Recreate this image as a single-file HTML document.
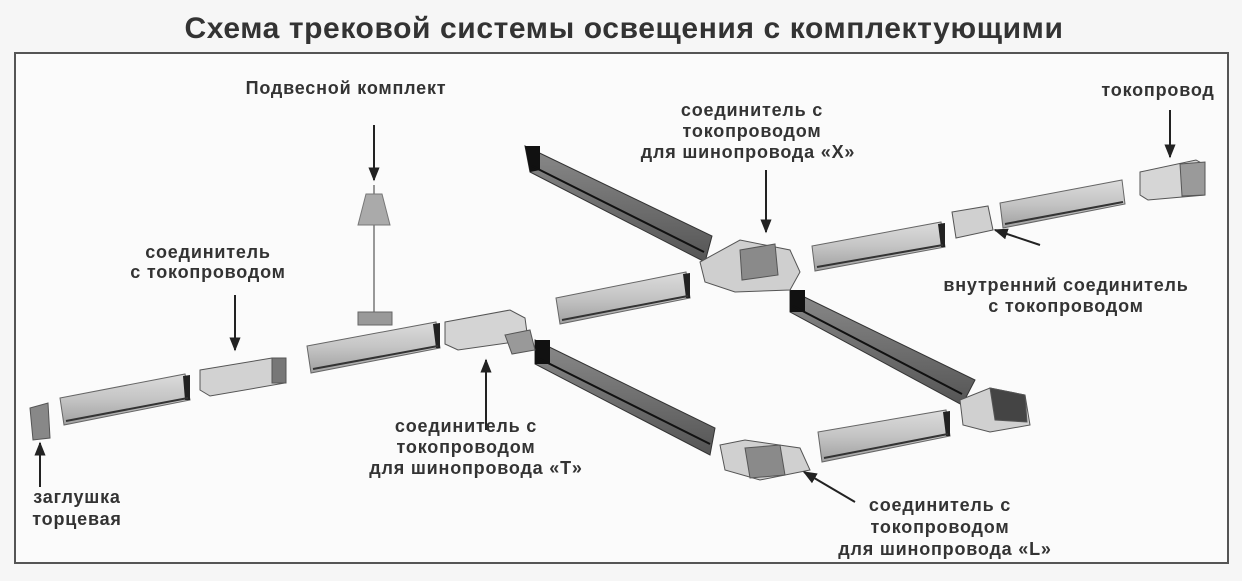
<!DOCTYPE html>
<html><head><meta charset="utf-8"><style>
html,body{margin:0;padding:0;background:#f6f6f6;}
svg{display:block}
text{font-family:"Liberation Sans","DejaVu Sans",sans-serif;font-weight:bold;fill:#333;}
</style></head><body>
<svg width="1242" height="581" viewBox="0 0 1242 581" xmlns="http://www.w3.org/2000/svg">
<defs>
<marker id="ah" viewBox="0 0 10 10" refX="9" refY="5" markerWidth="7" markerHeight="9" orient="auto-start-reverse"><path d="M0,1 L10,5 L0,9 z" fill="#222"/></marker>
<linearGradient id="lg" x1="0" y1="0" x2="0" y2="1"><stop offset="0" stop-color="#dcdcdc"/><stop offset="0.5" stop-color="#c4c4c4"/><stop offset="1" stop-color="#a0a0a0"/></linearGradient>
<linearGradient id="dg" x1="0" y1="0" x2="0" y2="1"><stop offset="0" stop-color="#8a8a8a"/><stop offset="1" stop-color="#555"/></linearGradient>
</defs>
<rect x="0" y="0" width="1242" height="581" fill="#f6f6f6"/>
<text x="624" y="38" font-size="30" letter-spacing="0.6" text-anchor="middle" fill="#2a2a2a">Схема трековой системы освещения с комплектующими</text>
<rect x="15" y="53" width="1213" height="510" fill="#fbfbfb" stroke="#555" stroke-width="2"/>

<g stroke="#666" stroke-width="1">
<polygon points="60,398 185,374 190,400 64,425" fill="url(#lg)"/>
<polygon points="307,346 436,322 440,348 311,373" fill="url(#lg)"/>
<polygon points="556,298 686,272 690,298 560,324" fill="url(#lg)"/>
<polygon points="812,246 941,222 945,247 815,271" fill="url(#lg)"/>
<polygon points="1000,203 1122,180 1125,204 1003,228" fill="url(#lg)"/>
<polygon points="818,432 946,410 950,436 822,462" fill="url(#lg)"/>
</g>
<g fill="#222">
<polygon points="183,376 190,375 190,400 185,400"/>
<polygon points="433,324 440,323 440,348 436,348"/>
<polygon points="683,274 690,273 690,298 686,298"/>
<polygon points="938,224 945,223 945,247 941,247"/>
<polygon points="943,412 950,411 950,436 946,436"/>
</g>
<g stroke="#333" stroke-width="2">
<line x1="66" y1="421" x2="188" y2="398"/>
<line x1="313" y1="369" x2="438" y2="346"/>
<line x1="562" y1="320" x2="688" y2="296"/>
<line x1="817" y1="267" x2="943" y2="245"/>
<line x1="1005" y1="224" x2="1123" y2="202"/>
<line x1="824" y1="458" x2="948" y2="434"/>
</g>

<g stroke="#333" stroke-width="1">
<polygon points="525,146 712,236 705,262 530,172" fill="url(#dg)"/>
<polygon points="790,290 975,380 962,405 790,312" fill="url(#dg)"/>
<polygon points="535,340 715,428 710,455 535,364" fill="url(#dg)"/>
</g>
<g fill="#111">
<polygon points="525,146 540,146 540,170 530,172"/>
<polygon points="790,290 805,290 805,312 790,312"/>
<polygon points="535,340 550,340 550,364 535,364"/>
</g>
<g stroke="#111" stroke-width="2">
<line x1="532" y1="166" x2="704" y2="252"/>
<line x1="793" y1="306" x2="962" y2="394"/>
<line x1="538" y1="358" x2="710" y2="444"/>
</g>

<g stroke="#555" stroke-width="1">
<polygon points="200,370 272,358 285,362 285,383 210,396 200,390" fill="#d2d2d2"/>
<rect x="272" y="358" width="14" height="25" fill="#777"/>
<polygon points="445,322 510,310 525,318 528,340 458,350 445,344" fill="#d4d4d4"/>
<polygon points="505,335 530,330 535,350 512,354" fill="#999"/>
<polygon points="700,262 740,240 790,250 800,272 790,290 735,292 705,282" fill="#cfcfcf"/>
<polygon points="740,250 775,244 778,275 742,280" fill="#8a8a8a"/>
<polygon points="952,212 988,206 993,230 956,238" fill="#d0d0d0"/>
<polygon points="1140,172 1196,160 1205,165 1205,195 1148,200 1140,195" fill="#d6d6d6"/>
<polygon points="1180,164 1205,162 1205,195 1182,196" fill="#9a9a9a"/>
<polygon points="720,445 745,440 800,448 810,470 760,480 725,470" fill="#d0d0d0"/>
<polygon points="745,448 780,445 785,475 750,478" fill="#8a8a8a"/>
<polygon points="960,400 990,388 1025,395 1030,425 990,432 963,425" fill="#d0d0d0"/>
<polygon points="990,388 1025,395 1027,422 995,420" fill="#444"/>
<polygon points="30,408 48,403 50,438 33,440" fill="#888"/>
</g>

<line x1="374" y1="185" x2="374" y2="313" stroke="#777" stroke-width="1.5"/>
<polygon points="366,194 382,194 390,225 358,225" fill="#aaa" stroke="#777"/>
<rect x="358" y="312" width="34" height="13" fill="#999" stroke="#666"/>

<g stroke="#222" stroke-width="2" fill="none" marker-end="url(#ah)">
<line x1="374" y1="125" x2="374" y2="180"/>
<line x1="235" y1="295" x2="235" y2="350"/>
<line x1="486" y1="430" x2="486" y2="360"/>
<line x1="766" y1="170" x2="766" y2="232"/>
<line x1="1170" y1="110" x2="1170" y2="157"/>
<line x1="1040" y1="245" x2="995" y2="230"/>
<line x1="855" y1="502" x2="804" y2="472"/>
<line x1="40" y1="487" x2="40" y2="443"/>
</g>

<g font-size="18" letter-spacing="0.8">
<text x="346" y="94" text-anchor="middle">Подвесной комплект</text>
<text x="208" y="258" text-anchor="middle">соединитель</text>
<text x="208" y="278" text-anchor="middle">с токопроводом</text>
<text x="752" y="116" text-anchor="middle">соединитель с</text>
<text x="752" y="137" text-anchor="middle">токопроводом</text>
<text x="748" y="158" text-anchor="middle">для шинопровода  «X»</text>
<text x="1158" y="96" text-anchor="middle">токопровод</text>
<text x="1066" y="291" text-anchor="middle">внутренний соединитель</text>
<text x="1066" y="312" text-anchor="middle">с токопроводом</text>
<text x="466" y="432" text-anchor="middle">соединитель с</text>
<text x="466" y="453" text-anchor="middle">токопроводом</text>
<text x="476" y="474" text-anchor="middle">для шинопровода  «T»</text>
<text x="77" y="503" text-anchor="middle">заглушка</text>
<text x="77" y="525" text-anchor="middle">торцевая</text>
<text x="940" y="511" text-anchor="middle">соединитель с</text>
<text x="940" y="533" text-anchor="middle">токопроводом</text>
<text x="945" y="555" text-anchor="middle">для шинопровода  «L»</text>
</g>
</svg>
</body></html>
